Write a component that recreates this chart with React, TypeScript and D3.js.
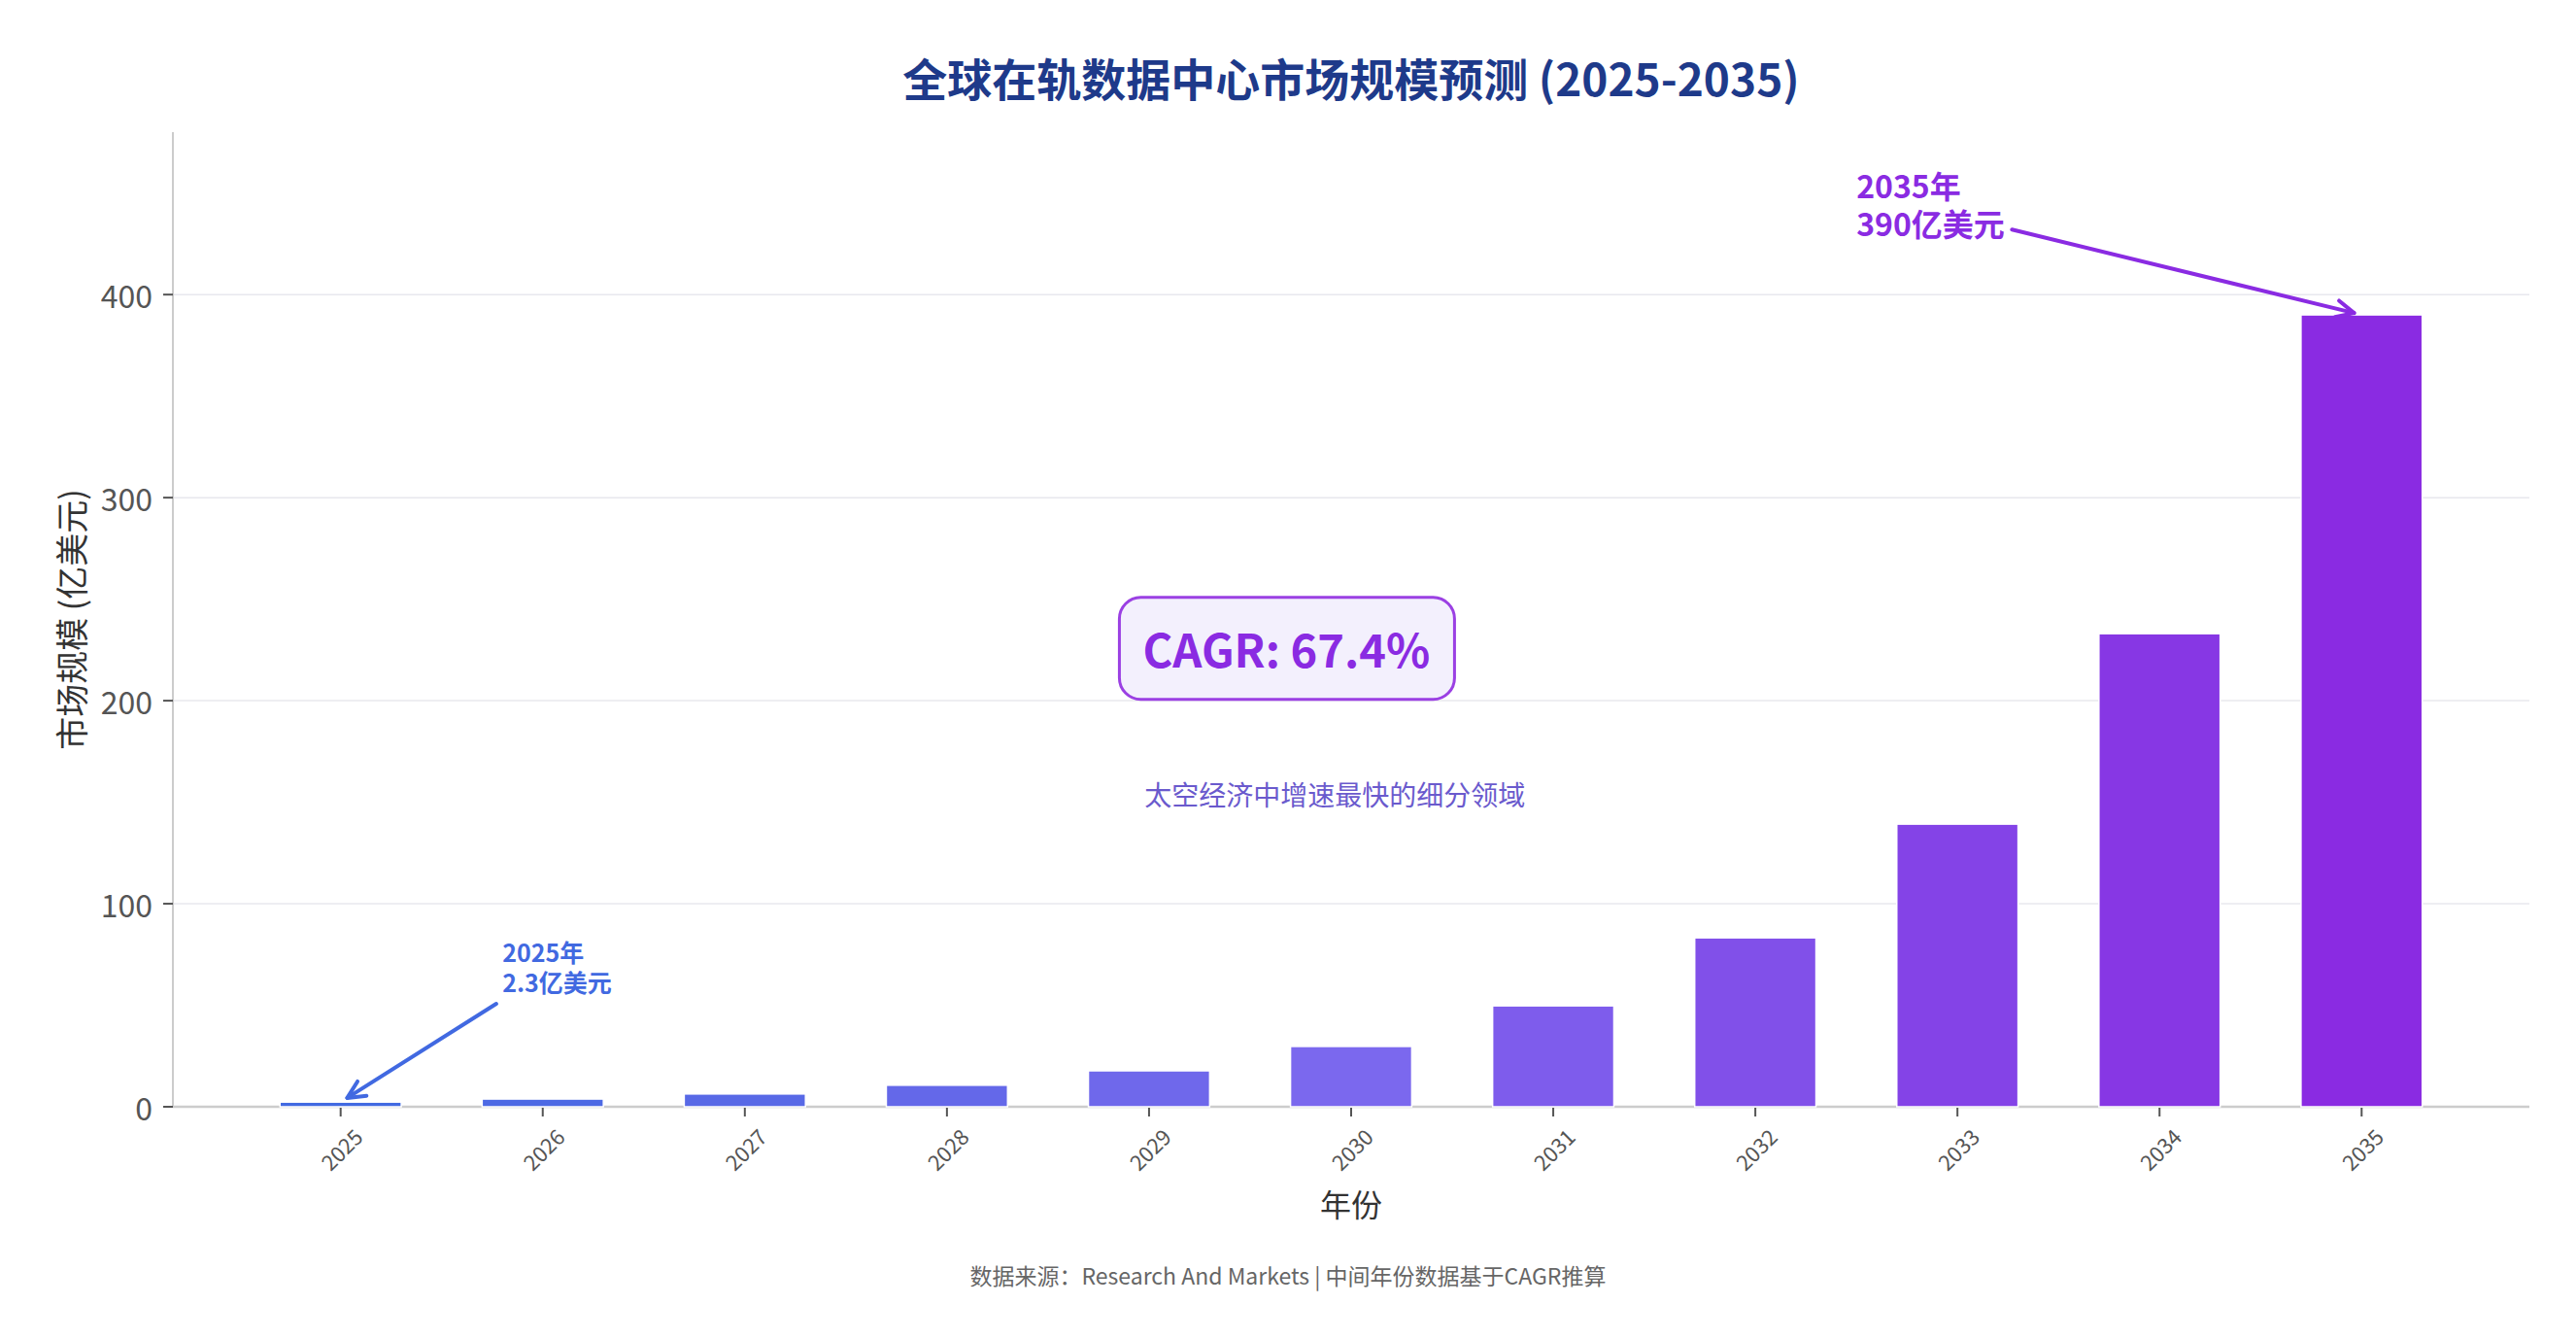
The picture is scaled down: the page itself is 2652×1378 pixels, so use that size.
import React from 'react';
import * as d3 from 'd3';

// 数据（亿美元）
const years = ['2025', '2026', '2027', '2028', '2029', '2030', '2031', '2032', '2033', '2034', '2035'];
const marketSize = [2.3, 3.8, 6.3, 10.6, 17.7, 29.7, 49.7, 83.2, 139.2, 233, 390];
const yTicks = [0, 100, 200, 300, 400];
const barColors = ['#4169E1', '#7B68EE', '#8A2BE2'];

const W = 2652;
const H = 1378;
const margin = { top: 136, right: 48, bottom: 239, left: 178 };
const FONT = '"Noto Sans CJK SC", "Noto Sans", sans-serif';

interface Note {
  lines: string[];
  color: string;
  size: number;
  textX: number; // in band index units
  textY: number; // data value of the last line's baseline
  fromX: number;
  fromY: number;
  idx: number;
}

const notes: Note[] = [
  { lines: ['2025年', '2.3亿美元'], color: '#4169E1', size: 25, textX: 0.8, textY: 56.5, fromX: 0.77, fromY: 50.7, idx: 0 },
  { lines: ['2035年', '390亿美元'], color: '#8A2BE2', size: 32, textX: 7.5, textY: 429, fromX: 8.27, fromY: 432, idx: 10 },
];

const App = () => {
  const innerW = W - margin.left - margin.right;
  const innerH = H - margin.top - margin.bottom;
  const x0 = margin.left;
  const y0 = margin.top;

  const x = d3.scaleBand<string>()
    .domain(years)
    .range([x0, x0 + innerW])
    .paddingInner(0.4)
    .paddingOuter(0.53);

  const y = d3.scaleLinear()
    .domain([0, 480])
    .range([y0 + innerH, y0]);

  const color = d3.scaleLinear<string>()
    .domain([0, 0.5, 1])
    .range(barColors)
    .interpolate(d3.interpolateRgb);

  const cx = (i: number) => (x(years[0]) as number) + x.bandwidth() / 2 + i * x.step();
  const base = y(0);

  // arrow helper: line from start to target, shortened, open head
  const arrow = (sx: number, sy: number, tx: number, ty: number, c: string, key: string) => {
    const dx = tx - sx;
    const dy = ty - sy;
    const len = Math.sqrt(dx * dx + dy * dy);
    const ux = dx / len;
    const uy = dy / len;
    const ex = tx - ux * 8;
    const ey = ty - uy * 8;
    const hl = 20;
    const ang = Math.PI / 7;
    const a = Math.atan2(uy, ux);
    const h1 = [ex - hl * Math.cos(a - ang), ey - hl * Math.sin(a - ang)];
    const h2 = [ex - hl * Math.cos(a + ang), ey - hl * Math.sin(a + ang)];
    return (
      <g key={key} stroke={c} strokeWidth={4} fill="none" strokeLinecap="round" strokeLinejoin="round">
        <line x1={sx} y1={sy} x2={ex} y2={ey} />
        <path d={`M${h1[0]},${h1[1]} L${ex},${ey} L${h2[0]},${h2[1]}`} />
      </g>
    );
  };

  return (
    <div style={{ position: 'absolute', left: 0, top: 0 }}>
      <svg width={W} height={H} style={{ display: 'block', background: '#fff' }} fontFamily={FONT}>
        {/* grid */}
        {yTicks.filter(t => t > 0).map(t => (
          <line key={t} x1={x0} x2={x0 + innerW} y1={y(t)} y2={y(t)} stroke="#e8e8ee" strokeWidth={1.5} />
        ))}

        {/* spines */}
        <line x1={x0} x2={x0} y1={y0} y2={base} stroke="#cccccc" strokeWidth={2} />
        <line x1={x0} x2={x0 + innerW} y1={base} y2={base} stroke="#cccccc" strokeWidth={2.5} />

        {/* bars */}
        {marketSize.map((v, i) => (
          <rect
            key={years[i]}
            x={x(years[i])}
            y={y(v)}
            width={x.bandwidth()}
            height={base - y(v)}
            fill={color(i / (years.length - 1))}
            stroke="#ffffff"
            strokeWidth={1.5}
          />
        ))}

        {/* y axis ticks */}
        {yTicks.map(t => (
          <g key={t}>
            <line x1={x0 - 10} x2={x0} y1={y(t)} y2={y(t)} stroke="#555" strokeWidth={2} />
            <text x={x0 - 21} y={y(t)} textAnchor="end" dominantBaseline="central" fontSize={32} fill="#555">{t}</text>
          </g>
        ))}

        {/* x axis ticks */}
        {years.map((yr, i) => (
          <g key={yr}>
            <line x1={cx(i)} x2={cx(i)} y1={base + 1} y2={base + 10} stroke="#555" strokeWidth={2} />
            <text
              transform={`translate(${cx(i)},${base + 43}) rotate(-45)`}
              textAnchor="middle"
              dominantBaseline="central"
              fontSize={22}
              fill="#555"
            >{yr}</text>
          </g>
        ))}

        {/* axis labels */}
        <text transform={`translate(72,${y0 + innerH / 2}) rotate(-90)`} textAnchor="middle" dominantBaseline="central" fontSize={34} fill="#333">市场规模 (亿美元)</text>
        <text x={x0 + innerW / 2} y={1238} textAnchor="middle" dominantBaseline="central" fontSize={32} fill="#333">年份</text>

        {/* title */}
        <text x={x0 + innerW / 2} y={79} textAnchor="middle" dominantBaseline="central" fontSize={46} fontWeight={700} fill="#1E3A8A">全球在轨数据中心市场规模预测 (2025-2035)</text>

        {/* CAGR box */}
        <g>
          <rect x={cx(4.68) - 172} y={y(226) - 52} width={345} height={105} rx={22} fill="#F3F0FD" stroke="#9B40E3" strokeWidth={3} />
          <text x={cx(4.68)} y={y(226)} textAnchor="middle" dominantBaseline="central" fontSize={47} fontWeight={700} fill="#8A2BE2">CAGR: 67.4%</text>
        </g>
        <text x={cx(4.92)} y={y(154)} textAnchor="middle" dominantBaseline="central" fontSize={28} fill="#6A5ACD">太空经济中增速最快的细分领域</text>

        {/* annotations */}
        {notes.map(n => (
          <g key={n.idx}>
            <text fontSize={n.size} fontWeight={700} fill={n.color}>
              {n.lines.map((l, k) => (
                <tspan
                  key={k}
                  x={cx(n.textX)}
                  y={y(n.textY) - (n.lines.length - 1 - k) * n.size * 1.22}
                >{l}</tspan>
              ))}
            </text>
            {arrow(cx(n.fromX), y(n.fromY), cx(n.idx), y(marketSize[n.idx]), n.color, 'a' + n.idx)}
          </g>
        ))}

        {/* footer */}
        <text x={W / 2} y={1312} textAnchor="middle" dominantBaseline="central" fontSize={23} fill="#666">数据来源：Research And Markets | 中间年份数据基于CAGR推算</text>
      </svg>
    </div>
  );
};

export default App;
